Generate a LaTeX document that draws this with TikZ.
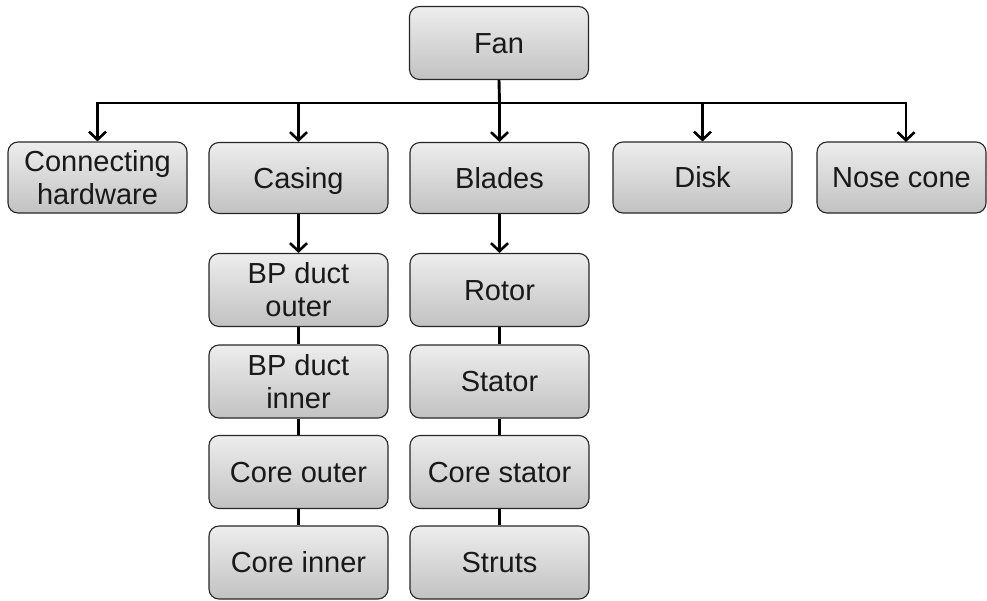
\documentclass[tikz,border=0pt]{standalone}
\usepackage{fontspec}
\setmainfont{Liberation Sans}
\usetikzlibrary{arrows.meta}
\tikzset{
  boxnode/.style={draw=black!85, line width=1.1pt, rounded corners=10pt,
    top color=black!7, bottom color=black!24,
    minimum width=179pt, minimum height=73pt, inner sep=0pt,
    align=center, text=black!90,
    font=\fontsize{29}{33}\selectfont},
  oneline/.style={text height=26pt, text depth=6pt},
  conn/.style={line width=2.9pt, draw=black},
  arr/.style={conn, -{Straight Barb[length=8pt,width=17pt,line width=2.6pt]}}
}
\begin{document}
\begin{tikzpicture}[x=1pt,y=-1pt]
\useasboundingbox (0,0) rectangle (987,600);
\node[boxnode, oneline] (fan) at (499,43) {Fan};
\node[boxnode, minimum height=71pt] (conn) at (97.5,177.5) {Connecting\\hardware};
\node[boxnode, oneline, minimum height=71pt] (casing) at (298.5,178) {Casing};
\node[boxnode, oneline, minimum height=71pt] (blades) at (499.5,178) {Blades};
\node[boxnode, oneline, minimum height=71pt] (disk) at (702.5,177.5) {Disk};
\node[boxnode, oneline, minimum height=71pt, minimum width=169pt] (nose) at (901.5,177.5) {Nose cone};
\node[boxnode] (bpo) at (298.5,290) {BP duct\\outer};
\node[boxnode] (bpi) at (298.5,381.5) {BP duct\\inner};
\node[boxnode, oneline] (coreo) at (298.5,472) {Core outer};
\node[boxnode, oneline] (corei) at (298.5,562.5) {Core inner};
\node[boxnode, oneline] (rotor) at (499.5,290) {Rotor};
\node[boxnode, oneline] (stator) at (499.5,381.5) {Stator};
\node[boxnode, oneline] (cstat) at (499.5,472) {Core stator};
\node[boxnode, oneline] (struts) at (499.5,562.5) {Struts};
\coordinate (busL) at (97.5,103);
\coordinate (busR) at (906,103);
\draw[conn] (fan.south) -- (499.5,103);
\draw[conn, line cap=rect] (busL) -- (busR);
\draw[arr] (busL) -- (conn.north);
\draw[arr] (298.5,103) -- (casing.north);
\draw[arr] (499.5,103) -- (blades.north);
\draw[arr] (702.5,103) -- (disk.north);
\draw[arr] (busR) -- (906,142);
\draw[arr] (casing.south) -- (bpo.north);
\draw[arr] (blades.south) -- (rotor.north);
\draw[conn] (bpo.south) -- (bpi.north);
\draw[conn] (bpi.south) -- (coreo.north);
\draw[conn] (coreo.south) -- (corei.north);
\draw[conn] (rotor.south) -- (stator.north);
\draw[conn] (stator.south) -- (cstat.north);
\draw[conn] (cstat.south) -- (struts.north);
\end{tikzpicture}
\end{document}
